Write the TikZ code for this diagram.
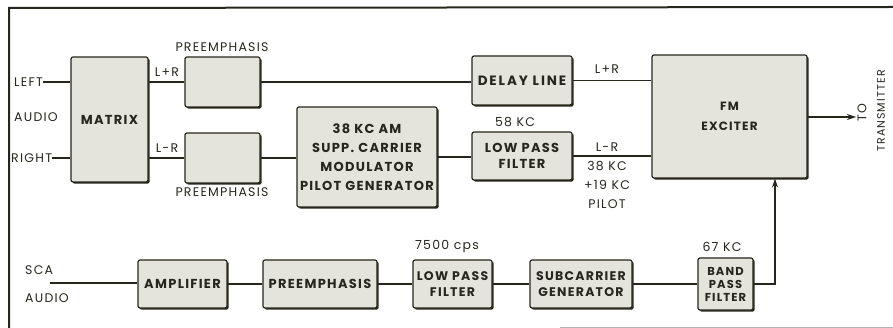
\documentclass[tikz,border=0pt]{standalone}
\usepackage{fontspec}
\setmainfont{Poppins}[LetterSpace=10]
\usetikzlibrary{shadows,arrows.meta}
\definecolor{ink}{HTML}{26261C}
\definecolor{boxfill}{HTML}{E4E4DC}
\tikzset{
  blk/.style={draw=ink, line width=1.2pt, fill=boxfill, rounded corners=2pt,
    drop shadow={shadow xshift=1.6pt, shadow yshift=-1.6pt, fill=ink, opacity=1},
    align=center, inner sep=1pt, font=\fontsize{13}{15}\selectfont\bfseries, text=ink},
  lbl/.style={font=\fontsize{12.5}{14}\selectfont, text=ink, inner sep=0pt},
  wire/.style={draw=ink, line width=1.1pt},
  arr/.style={wire, -{Stealth[length=9pt,width=6pt]}},
}
\begin{document}
\begin{tikzpicture}[x=1pt,y=1pt]
\useasboundingbox (0,0) rectangle (893,-328);
% frame
\draw[ink, line width=2pt] (9,-328) -- (9,-8) -- (893,-7);
\draw[black!30, line width=1pt] (560,-327) -- (893,-327);

% boxes
\node[blk, minimum width=77pt, minimum height=125pt] (mat) at (109.5,-119.5) {MATRIX};
\node[blk, minimum width=75pt, minimum height=50pt] (pe1) at (222.5,-82) {};
\node[blk, minimum width=75pt, minimum height=50pt] (pe2) at (222.5,-158) {};
\node[blk, minimum width=140pt, minimum height=100pt, font=\fontsize{13}{19}\selectfont\bfseries] (mod) at (367,-157) {38 KC AM\\SUPP. CARRIER\\MODULATOR\\PILOT GENERATOR};
\node[blk, minimum width=100pt, minimum height=49pt, font=\fontsize{13.5}{15}\selectfont\bfseries\addfontfeature{LetterSpace=14}] (dly) at (522,-80.5) {DELAY LINE};
\node[blk, minimum width=100pt, minimum height=48pt, font=\fontsize{13}{16}\selectfont\bfseries] (lp1) at (522,-156) {LOW PASS\\FILTER};
\node[blk, minimum width=155pt, minimum height=123pt, font=\fontsize{12}{20}\selectfont\bfseries] (fm) at (729.5,-116.5) {FM\\EXCITER};
\node[blk, minimum width=89pt, minimum height=48pt] (amp) at (182.5,-284) {AMPLIFIER};
\node[blk, minimum width=114pt, minimum height=48pt] (pe3) at (320,-284) {PREEMPHASIS};
\node[blk, minimum width=79pt, minimum height=48pt, font=\fontsize{12.5}{16}\selectfont\bfseries] (lp2) at (452.5,-284) {LOW PASS\\FILTER};
\node[blk, minimum width=102pt, minimum height=48pt, font=\fontsize{12.5}{16}\selectfont\bfseries] (sub) at (581,-284) {SUBCARRIER\\GENERATOR};
\node[blk, minimum width=55pt, minimum height=52pt, font=\fontsize{11.5}{13}\selectfont\bfseries] (bpf) at (725.5,-284) {BAND\\PASS\\FILTER};

% labels
\node[lbl, anchor=west] (lft) at (14,-82) {LEFT};
\node[lbl, anchor=west] (aud) at (14,-117) {AUDIO};
\node[lbl, anchor=west] (rgt) at (11,-158) {RIGHT};
\node[lbl] (pt1) at (222,-47) {PREEMPHASIS};
\node[lbl] (pt2) at (222,-192) {PREEMPHASIS};
\node[lbl] (lpr1) at (167,-72) {L+R};
\node[lbl] (lmr1) at (167,-148) {L-R};
\node[lbl] (k58) at (515,-122) {58 KC};
\node[lbl] (lpr2) at (607,-69) {L+R};
\node[lbl, align=center, font=\fontsize{12.5}{19}\selectfont] (lmr2) at (607,-176) {L-R\\38 KC\\+19 KC\\PILOT};
\node[lbl, anchor=west] (sca) at (25,-270) {SCA};
\node[lbl, anchor=west] (aud2) at (25,-298) {AUDIO};
\node[lbl] (cps) at (447,-247) {7500 cps};
\node[lbl] (k67) at (722,-247) {67 KC};
\node[lbl, rotate=90] (to) at (862,-113) {TO};
\node[lbl, rotate=90, font=\fontsize{11}{13}\selectfont] (tx) at (881,-111) {TRANSMITTER};

% connectors
\coordinate (scain) at (50,-283);
\coordinate (outp) at (856,-117);
\coordinate (bend) at (775,-284);
\draw[wire] (lft.east) -- (lft.east -| mat.west);
\draw[wire] (rgt.east) -- (rgt.east -| mat.west);
\draw[wire] (pe1.west -| mat.east) -- (pe1.west);
\draw[wire] (pe2.west -| mat.east) -- (pe2.west);
\draw[wire] (pe1.east) -- (pe1.east -| dly.west);
\draw[wire] (pe2.east) -- (pe2.east -| mod.west);
\draw[wire] (mod.east) -- (mod.east -| lp1.west);
\draw[wire] (dly.east) -- (dly.east -| fm.west);
\draw[wire] (lp1.east) -- (lp1.east -| fm.west);
\draw[arr] (fm.east |- outp) -- (outp);
\draw[wire] (scain) -- (scain -| amp.west);
\draw[wire] (amp.east) -- (pe3.west);
\draw[wire] (pe3.east) -- (lp2.west);
\draw[wire] (lp2.east) -- (sub.west);
\draw[wire] (sub.east) -- (bpf.west);
\draw[arr] (bpf.east) -- (bend) -- (bend |- fm.south);
\end{tikzpicture}
\end{document}
